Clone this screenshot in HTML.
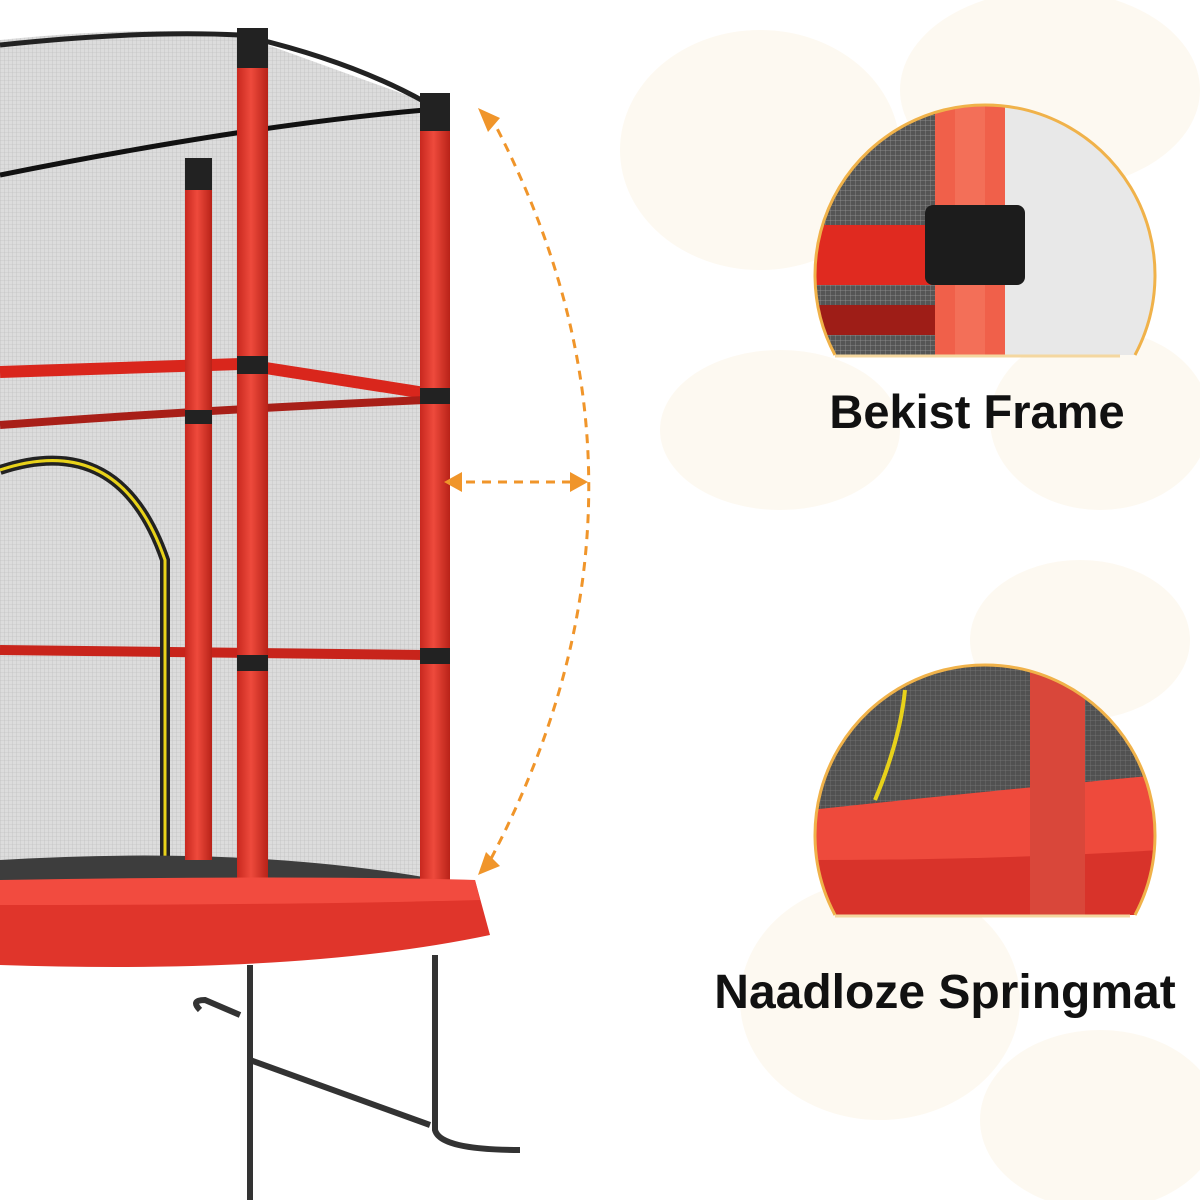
<!DOCTYPE html>
<html><head><meta charset="utf-8"><style>
html,body{margin:0;padding:0;background:#fff;width:1200px;height:1200px;overflow:hidden}
svg{display:block}
text{font-family:"Liberation Sans",sans-serif;font-weight:bold;fill:#111}
</style></head><body>
<svg width="1200" height="1200" viewBox="0 0 1200 1200" xmlns="http://www.w3.org/2000/svg">
<defs>
<pattern id="mesh" width="4" height="4" patternUnits="userSpaceOnUse">
<rect width="4" height="4" fill="#dcdcdc"/><path d="M0 0H4M0 0V4" stroke="#b8b8b8" stroke-width="0.6"/>
</pattern>
<pattern id="dmesh" width="5" height="5" patternUnits="userSpaceOnUse">
<rect width="5" height="5" fill="#555"/><path d="M0 0H5M0 0V5" stroke="#999" stroke-width="0.7"/>
</pattern>
<linearGradient id="pole" x1="0" x2="1"><stop offset="0" stop-color="#c8281f"/><stop offset="0.45" stop-color="#ee4a3c"/><stop offset="1" stop-color="#b82218"/></linearGradient>
<clipPath id="c1"><path d="M835 355 A170 170 0 1 1 1135 355 Z"/></clipPath>
<clipPath id="c2"><path d="M835 915 A170 170 0 1 1 1135 915 Z"/></clipPath>
</defs>
<g fill="#fdf9f1">
<ellipse cx="760" cy="150" rx="140" ry="120"/>
<ellipse cx="1050" cy="90" rx="150" ry="100"/>
<ellipse cx="1100" cy="420" rx="110" ry="90"/>
<ellipse cx="780" cy="430" rx="120" ry="80"/>
<ellipse cx="1080" cy="640" rx="110" ry="80"/>
<ellipse cx="880" cy="1000" rx="140" ry="120"/>
<ellipse cx="1100" cy="1120" rx="120" ry="90"/>
</g>
<path d="M0 40 Q150 25 240 35 L420 100 L440 890 Q300 960 0 940 Z" fill="url(#mesh)"/>
<path d="M0 45 Q140 30 240 35 Q350 60 425 102" fill="none" stroke="#222" stroke-width="5"/>
<path d="M0 175 Q250 125 425 110" fill="none" stroke="#111" stroke-width="5"/>
<path d="M0 372 L240 364 L425 393" stroke="#d9261c" stroke-width="12" fill="none"/>
<path d="M0 425 Q200 410 425 400" stroke="#a81f18" stroke-width="8" fill="none"/>
<path d="M0 650 L425 655" stroke="#c8241b" stroke-width="10" fill="none"/>
<path d="M0 470 Q120 430 165 560 L165 890" fill="none" stroke="#222" stroke-width="10"/>
<path d="M0 470 Q120 430 165 560 L165 890" fill="none" stroke="#e8d21a" stroke-width="3"/>
<path d="M0 860 Q250 845 440 880 L440 900 Q250 930 0 915 Z" fill="#3d3d3d"/>
<rect x="185" y="160" width="27" height="700" fill="url(#pole)"/>
<rect x="185" y="158" width="27" height="32" fill="#222"/>
<rect x="237" y="30" width="31" height="930" fill="url(#pole)"/>
<rect x="237" y="28" width="31" height="40" fill="#222"/>
<rect x="420" y="95" width="30" height="800" fill="url(#pole)"/>
<rect x="420" y="93" width="30" height="38" fill="#222"/>
<rect x="237" y="356" width="31" height="18" fill="#222"/><rect x="420" y="388" width="30" height="16" fill="#222"/>
<rect x="237" y="655" width="31" height="16" fill="#222"/><rect x="420" y="648" width="30" height="16" fill="#222"/>
<rect x="185" y="410" width="27" height="14" fill="#222"/>
<path d="M0 880 Q300 880 475 880 L490 935 Q300 975 0 965 Z" fill="#e0352b"/>
<path d="M0 880 Q300 875 475 880 L480 900 Q300 905 0 905 Z" fill="#f24b3f"/>
<g stroke="#333" stroke-width="6" fill="none">
<path d="M250 965 L250 1200"/><path d="M435 955 L435 1130 Q440 1150 520 1150"/>
<path d="M250 1060 L430 1125"/><path d="M200 1010 Q190 1000 205 1000 L240 1015"/>
</g>
<g stroke="#f0952a" stroke-width="3" fill="none" stroke-dasharray="9 7">
<path d="M490 115 Q690 490 485 870"/>
<path d="M450 482 L580 482"/>
</g>
<g fill="#f0952a">
<path d="M478 108 L500 118 L488 132 Z"/>
<path d="M478 875 L486 852 L500 866 Z"/>
<path d="M444 482 L462 472 L462 492 Z"/>
<path d="M588 482 L570 472 L570 492 Z"/>
</g>
<g clip-path="url(#c1)">
<rect x="810" y="100" width="350" height="260" fill="#e8e8e8"/>
<rect x="810" y="100" width="130" height="260" fill="url(#dmesh)"/>
<rect x="810" y="225" width="130" height="60" fill="#e02a20"/>
<rect x="810" y="305" width="130" height="30" fill="#9e1d17"/>
<rect x="935" y="100" width="70" height="260" fill="#f0604a"/>
<rect x="955" y="100" width="30" height="260" fill="#f57a62" opacity="0.6"/>
<rect x="925" y="205" width="100" height="80" fill="#1c1c1c" rx="8"/>
</g>
<path d="M835 355 A170 170 0 1 1 1135 355" fill="none" stroke="#f0b24a" stroke-width="3"/>
<line x1="835" y1="356" x2="1120" y2="356" stroke="#f4d7a0" stroke-width="3"/>
<g clip-path="url(#c2)">
<rect x="810" y="660" width="350" height="260" fill="#4a4a4a"/>
<rect x="810" y="660" width="350" height="260" fill="url(#dmesh)" opacity="0.6"/>
<path d="M810 810 Q1000 790 1160 775 L1160 920 L810 920 Z" fill="#d8332a"/>
<path d="M810 810 Q1000 790 1160 775 L1160 850 Q1000 860 810 860 Z" fill="#ee4a3c"/>
<rect x="1030" y="660" width="55" height="260" fill="#d9473a"/>
<path d="M905 690 Q900 740 875 800" stroke="#e8d21a" stroke-width="4" fill="none"/>
</g>
<path d="M835 915 A170 170 0 1 1 1135 915" fill="none" stroke="#f0b24a" stroke-width="3"/>
<line x1="835" y1="916" x2="1130" y2="916" stroke="#f4d7a0" stroke-width="3"/>
<text x="977" y="428" font-size="47" text-anchor="middle">Bekist Frame</text>
<text x="945" y="1008" font-size="48" text-anchor="middle">Naadloze Springmat</text>
</svg>
</body></html>
